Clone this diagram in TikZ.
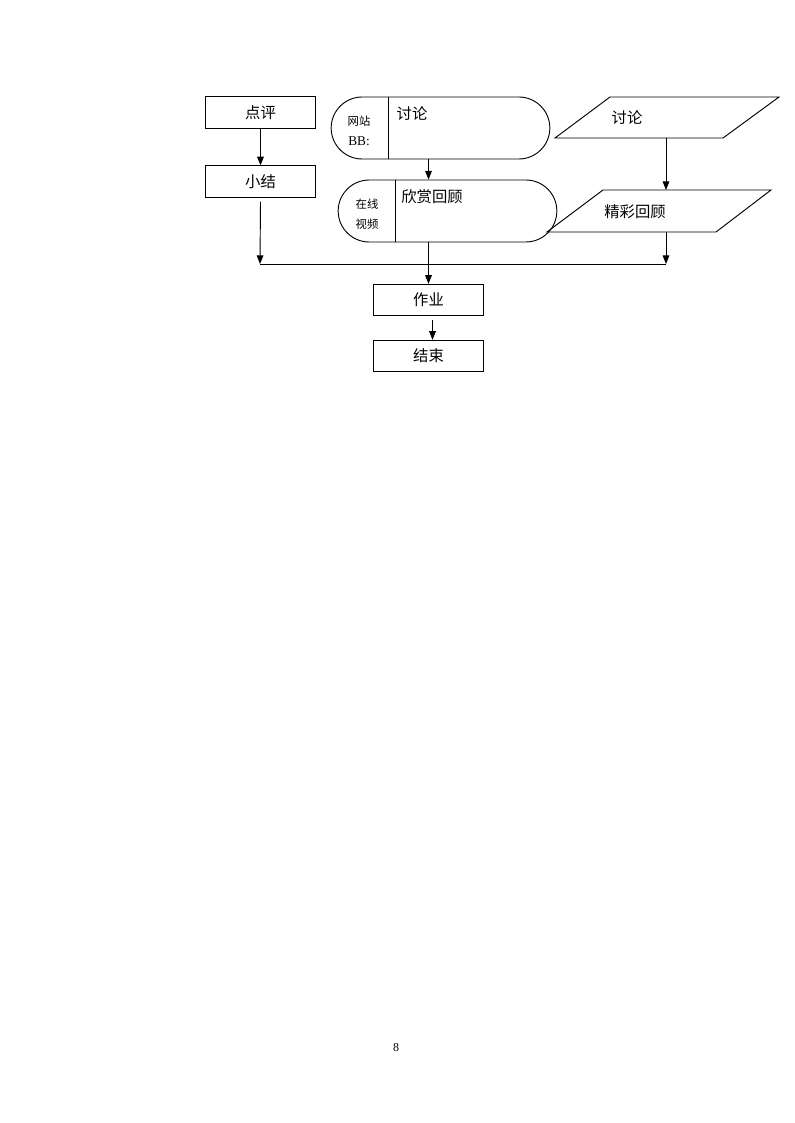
\documentclass[tikz,border=0pt]{standalone}
\usepackage{fontspec}
\setmainfont{Liberation Serif}
\newfontfamily\cjk{Noto Sans CJK SC}
\usetikzlibrary{shapes.misc,arrows.meta}

\begin{document}
\begin{tikzpicture}[x=.75pt,y=-.75pt,line width=.7pt,
  box/.style={draw,minimum width=83pt,minimum height=23.5pt,inner sep=0pt,font=\cjk\fontsize{11.5}{12}\selectfont},
  pill/.style={draw,rounded rectangle,minimum width=164pt,minimum height=46.5pt,inner sep=0pt},
  txt/.style={font=\cjk\fontsize{11.5}{12}\selectfont,inner sep=0pt},
  small/.style={font=\cjk\fontsize{8.5}{9}\selectfont,inner sep=0pt},
  arr/.style={-{Triangle[length=6.5pt,width=5pt]}}]
  \useasboundingbox (0,0) rectangle (794,1123);

  % left column
  \node[box] (dianping) at (260.5,112.5) {点评};
  \node[box] (xiaojie) at (260.5,181.5) {小结};

  % middle column
  \node[pill] (bbs) at (440.5,128) {};
  \coordinate (cut1) at (388,0);
  \draw (cut1 |- bbs.north) -- (cut1 |- bbs.south);
  \node[small] (wangzhan) at (359,121) {网站};
  \node[font=\fontsize{10}{10}\selectfont,inner sep=0pt] (bbsname) at (359,141) {BB:};
  \node[txt] (taolun) at (412,114) {讨论};

  \node[pill] (video) at (447.5,211) {};
  \coordinate (cut2) at (395,0);
  \draw (cut2 |- video.north) -- (cut2 |- video.south);
  \node[small] (zaixian) at (367,204) {在线};
  \node[small] (shipin) at (367,224) {视频};
  \node[txt] (xinshang) at (432,197) {欣赏回顾};

  \node[box] (zuoye) at (428.5,300) {作业};
  \node[box] (jieshu) at (428.5,356) {结束};

  % right column
  \draw (555,138) -- (610,97) -- (779,97) -- (723,138) -- cycle;
  \coordinate (taolun2) at (666,138);
  \node[txt] (taolunlbl) at (627,118) {讨论};
  \draw (547,232) -- (603,190) -- (771,190) -- (716,232) -- cycle;
  \coordinate (jingcaitop) at (666,190);
  \coordinate (jingcaibot) at (666,232);
  \node[txt] (jingcailbl) at (635,212) {精彩回顾};

  % connectors
  \coordinate (busL) at (260,264);
  \coordinate (busR) at (666,264);
  \draw (busL) -- (busR);
  \draw[arr] (dianping) -- (xiaojie);
  \draw[arr] ([yshift=-3pt]xiaojie.south) -- (busL);
  \draw[arr] (zuoye |- bbs.south) -- (zuoye |- video.north);
  \draw[arr] (zuoye |- video.south) -- (zuoye);
  \draw[arr] (taolun2) -- (jingcaitop);
  \draw[arr] (jingcaibot) -- (busR);
  \draw[arr] ([xshift=3pt,yshift=-3pt]zuoye.south) -- ([xshift=3pt]jieshu.north);

  \node[font=\fontsize{9}{9}\selectfont,inner sep=0pt] (pagenum) at (396,1048) {8};
\end{tikzpicture}
\end{document}
